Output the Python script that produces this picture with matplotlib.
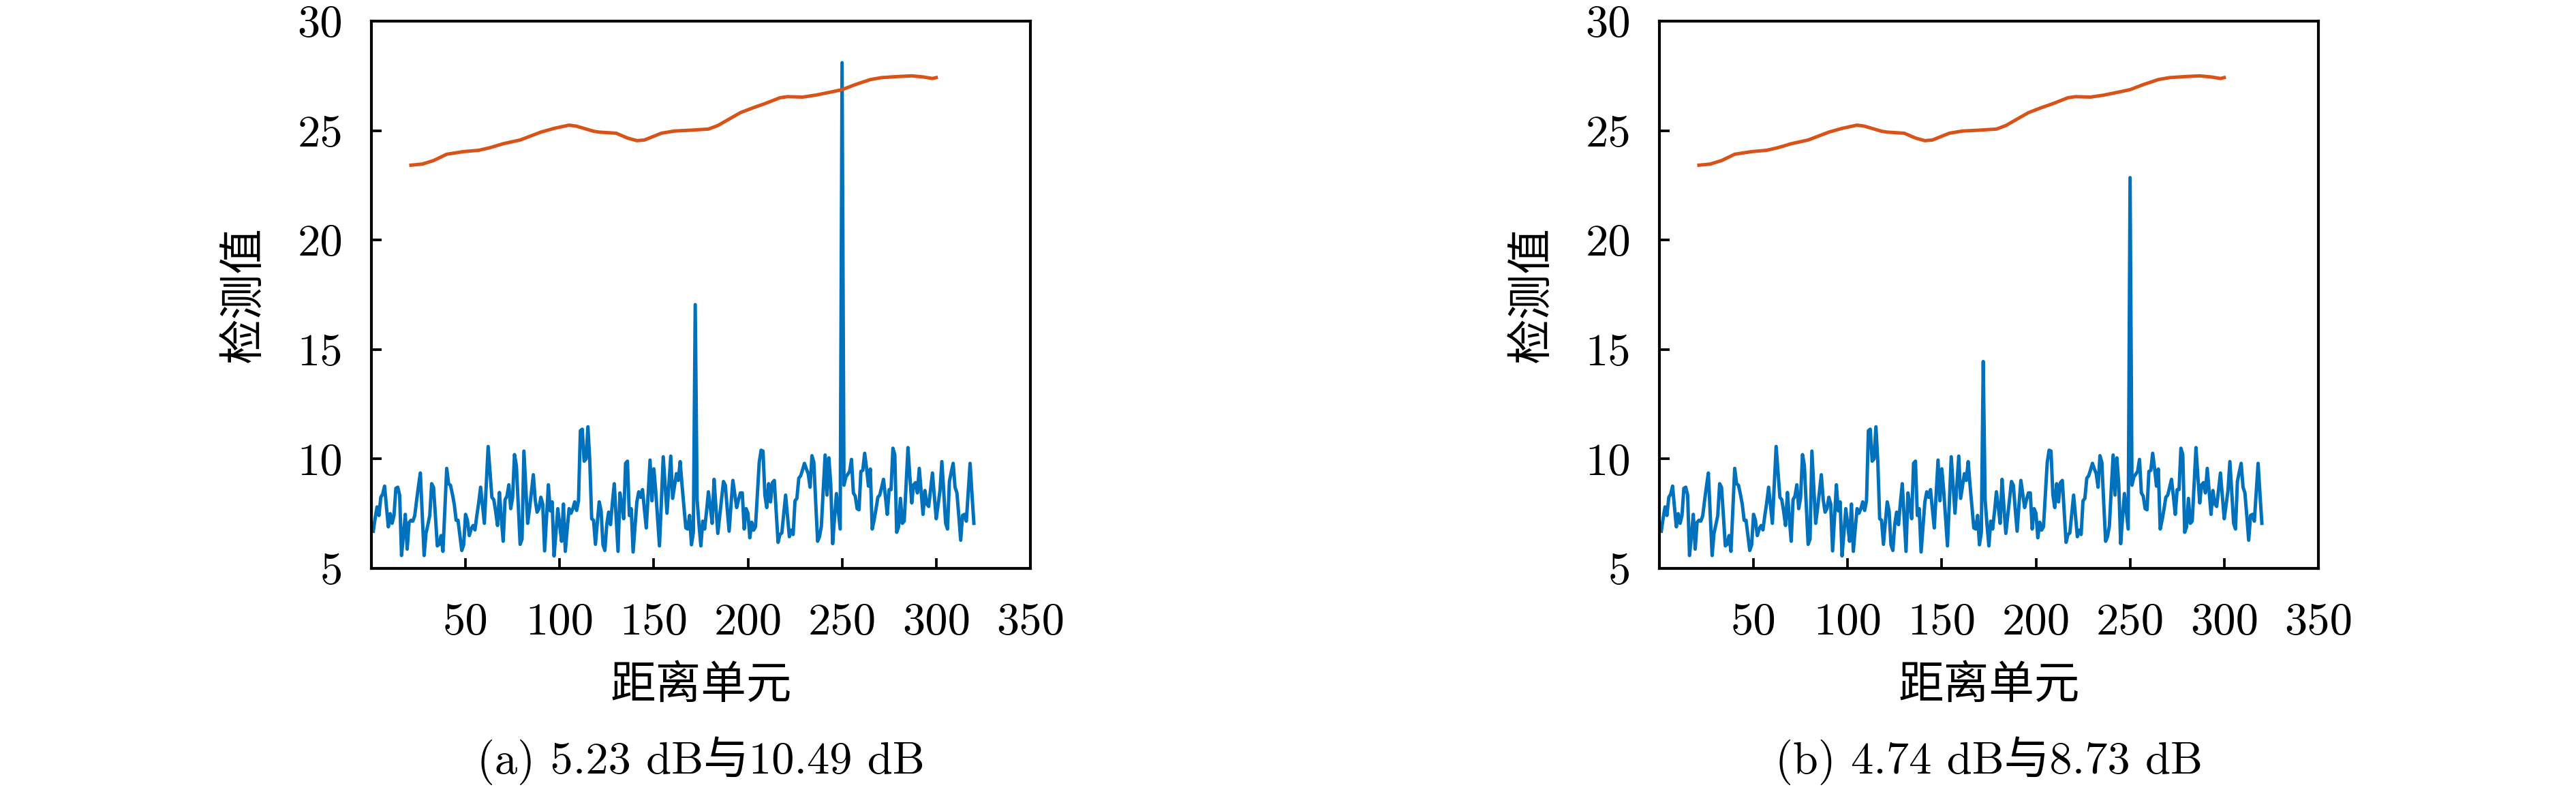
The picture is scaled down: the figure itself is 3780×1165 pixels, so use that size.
import numpy as np
import matplotlib
matplotlib.use("Agg")
import matplotlib.pyplot as plt

# fonts: Computer Modern for numbers, CJK fallback for Chinese
plt.rcParams['font.family'] = ['cmr10', 'Noto Sans CJK SC']
plt.rcParams['mathtext.fontset'] = 'cm'
plt.rcParams['axes.unicode_minus'] = False

# range cells 1..320, detection value (same clutter in both panels)
cells = list(range(1, 321))
detect = [
    6.70, 7.30, 7.81, 7.42, 8.25, 8.40, 8.76, 7.80, 6.90, 7.50,
    7.06, 7.42, 8.66, 8.71, 8.35, 5.59, 6.50, 7.47, 5.88, 7.10,
    7.20, 7.16, 7.40, 8.10, 8.76, 9.36, 7.50, 5.59, 6.60, 7.00,
    7.42, 8.87, 8.70, 7.40, 6.03, 6.10, 6.50, 5.78, 7.70, 9.57,
    8.87, 8.80, 8.40, 7.94, 7.20, 7.20, 6.50, 5.82, 6.08, 7.47,
    7.20, 6.50, 6.80, 6.96, 6.76, 7.42, 8.00, 8.71, 7.90, 7.06,
    8.80, 10.57, 9.40, 8.25, 8.14, 7.60, 6.96, 8.47, 7.30, 6.24,
    8.14, 8.30, 8.82, 7.73, 8.25, 10.20, 9.70, 7.90, 6.10, 6.34,
    10.36, 8.70, 7.06, 7.73, 8.50, 9.28, 8.14, 7.57, 7.73, 8.25,
    7.94, 5.80, 7.30, 8.82, 7.63, 8.04, 5.57, 6.60, 7.73, 7.00,
    6.24, 7.94, 5.78, 6.80, 7.73, 7.52, 7.73, 8.04, 7.65, 8.09,
    11.29, 11.36, 9.90, 10.00, 11.47, 9.90, 7.27, 7.20, 6.10, 7.10,
    8.04, 7.63, 6.08, 5.82, 7.00, 7.57, 7.00, 8.00, 8.87, 7.30,
    5.78, 8.45, 7.90, 7.27, 9.80, 9.90, 7.42, 7.73, 5.75, 6.90,
    8.04, 8.50, 8.25, 8.60, 7.70, 6.85, 8.40, 9.95, 8.09, 9.55,
    8.56, 7.30, 6.03, 8.00, 10.10, 8.80, 7.52, 8.80, 10.13, 8.20,
    8.76, 9.33, 9.02, 9.88, 8.80, 7.83, 6.85, 6.80, 7.42, 6.08,
    6.65, 17.05, 8.14, 7.00, 6.03, 7.16, 6.80, 7.60, 8.50, 7.80,
    7.06, 9.07, 7.80, 6.60, 7.40, 8.20, 8.97, 8.80, 7.70, 6.70,
    7.90, 9.02, 8.40, 7.78, 8.14, 8.45, 8.45, 6.80, 7.73, 7.52,
    6.40, 7.11, 6.75, 6.90, 8.40, 9.85, 10.40, 10.36, 8.35, 7.78,
    8.87, 8.04, 8.92, 9.02, 7.60, 6.19, 6.55, 6.62, 7.50, 8.35,
    7.40, 6.45, 6.75, 6.55, 8.09, 8.20, 9.12, 9.23, 9.50, 9.80,
    9.55, 9.33, 8.71, 10.15, 9.85, 8.00, 6.24, 6.45, 6.93, 8.60,
    10.18, 8.35, 10.05, 8.82, 6.13, 7.30, 8.42, 7.60, 6.80, 28.10,
    8.80, 9.18, 9.30, 9.43, 9.98, 8.45, 8.30, 7.73, 7.68, 9.43,
    9.48, 10.26, 9.59, 8.76, 9.54, 6.80, 7.20, 7.70, 8.25, 8.35,
    8.70, 9.07, 8.30, 7.47, 8.60, 8.60, 10.49, 10.20, 6.65, 6.90,
    8.20, 7.06, 7.16, 8.80, 10.52, 9.20, 7.99, 8.82, 8.92, 8.45,
    9.57, 8.50, 7.47, 8.56, 7.94, 7.83, 8.60, 9.36, 8.30, 7.27,
    7.90, 8.56, 9.88, 8.50, 7.06, 6.80, 8.97, 9.40, 9.80, 8.71,
    8.45, 7.40, 6.29, 7.42, 7.47, 7.16, 8.50, 9.80, 8.40, 7.06,
]

# target cells and their peak values per panel
target_cells = [172, 250]
peaks_a = [17.05, 28.10]
peaks_b = [14.45, 22.85]

# detection threshold curve
thr_x = [21, 27, 33, 40, 49, 57, 63, 70, 79, 90, 97, 105, 109, 118, 121,
         130, 136, 141, 145, 154, 161, 170, 179, 184, 196, 203, 209, 217,
         221, 229, 236, 244, 250, 257, 265, 271, 280, 287, 293, 298, 300]
thr_y = [23.42, 23.47, 23.63, 23.92, 24.04, 24.10, 24.22, 24.40, 24.57,
         24.93, 25.10, 25.25, 25.20, 24.97, 24.93, 24.88, 24.66, 24.54,
         24.57, 24.88, 24.98, 25.02, 25.07, 25.23, 25.82, 26.05, 26.23,
         26.50, 26.55, 26.53, 26.62, 26.76, 26.87, 27.10, 27.33, 27.42,
         27.47, 27.50, 27.45, 27.38, 27.42]

xticks = [50, 100, 150, 200, 250, 300, 350]
yticks = [5, 10, 15, 20, 25, 30]
captions = ["(a) 5.23 dB与10.49 dB", "(b) 4.74 dB与8.73 dB"]

fig = plt.figure(figsize=(3780 / 300, 1165 / 300), dpi=300)
lefts = [545 / 3780, 2435 / 3780]

for k, left in enumerate(lefts):
    ax = fig.add_axes([left, 0.2841, 0.2558, 0.6893])
    vals = list(detect)
    peaks = peaks_a if k == 0 else peaks_b
    for c, p in zip(target_cells, peaks):
        vals[c - 1] = p
    ax.plot(cells, vals, color='#0072BD', linewidth=1.2)
    ax.plot(thr_x, thr_y, color='#D95319', linewidth=1.2)

    ax.set_xlim(0, 350)
    ax.set_ylim(5, 30)
    ax.set_xticks(xticks)
    ax.set_xticklabels([str(t) for t in xticks])
    ax.set_yticks(yticks)
    ax.set_yticklabels([str(t) for t in yticks])
    ax.tick_params(direction='in', length=3.5, width=0.9, top=False, right=False,
                   labelsize=16)
    ax.tick_params(axis='x', pad=12)
    ax.tick_params(axis='y', pad=10)
    for s in ax.spines.values():
        s.set_linewidth(1.0)

    ax.text(0.5, -0.215, "距离单元", transform=ax.transAxes, ha='center',
            va='center', fontsize=16)
    ax.text(-0.193, 0.5, "检测值", transform=ax.transAxes, ha='center',
            va='center', rotation=90, fontsize=16)
    ax.text(0.5, -0.351, captions[k], transform=ax.transAxes, ha='center',
            va='center', fontsize=16)

fig.savefig("out.png", dpi=300)
